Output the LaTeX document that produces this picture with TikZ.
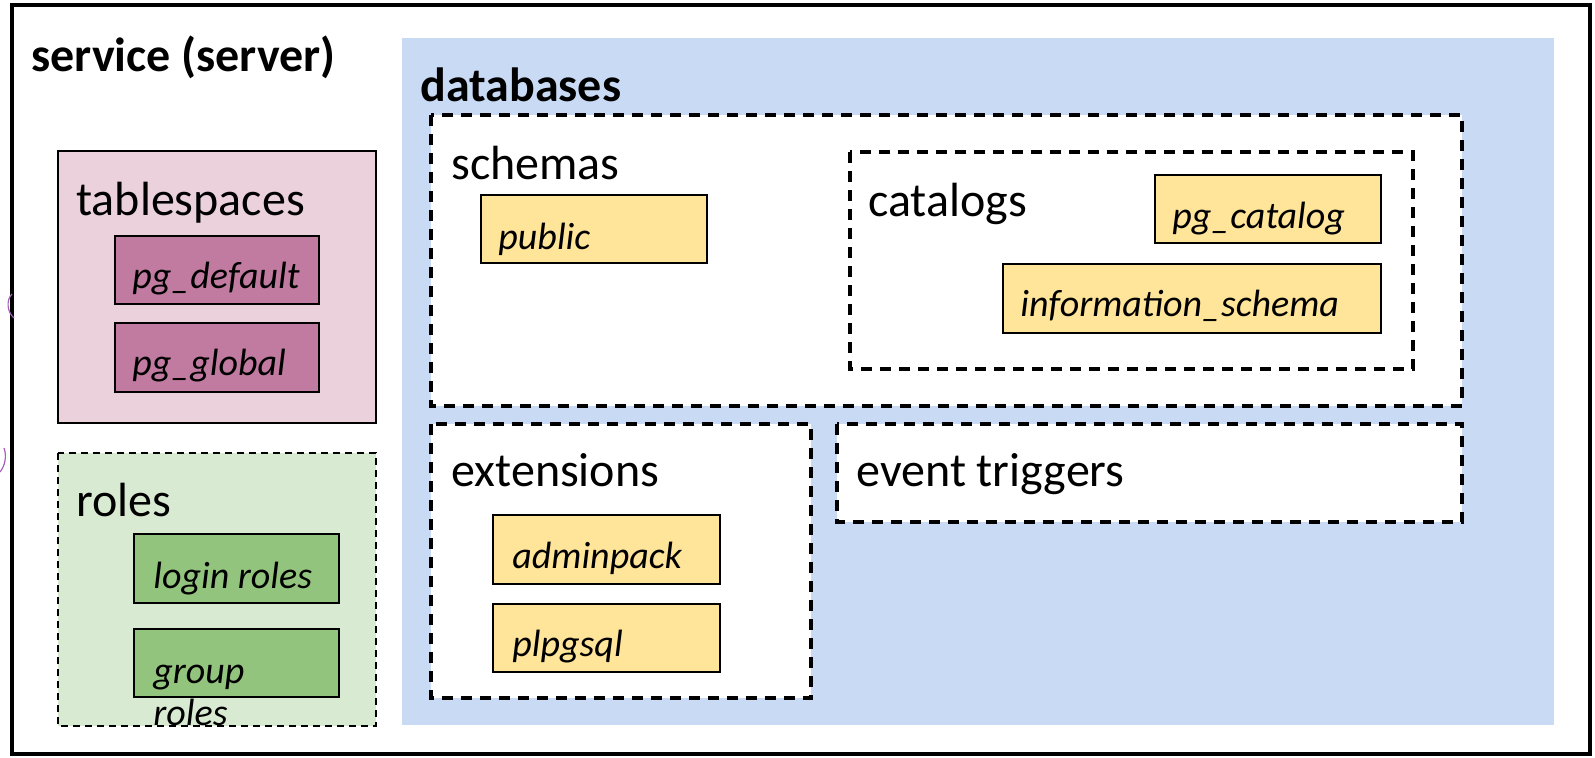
\documentclass[tikz,border=0pt]{standalone}
\usepackage{fontspec}
\setmainfont{Carlito}
\usetikzlibrary{positioning}

\definecolor{dbblue}{RGB}{201,218,245}
\definecolor{tspink}{RGB}{234,209,220}
\definecolor{tsdark}{RGB}{194,123,160}
\definecolor{rolegreen}{RGB}{217,234,211}
\definecolor{roledark}{RGB}{147,196,125}
\definecolor{objyellow}{RGB}{255,229,153}
\definecolor{inkpurple}{RGB}{165,95,185}

\tikzset{
    heading/.style={anchor=base west, inner sep=0pt, font=\fontsize{24}{28}\selectfont\bfseries},
    label/.style={anchor=base west, inner sep=0pt, font=\fontsize{24}{28}\selectfont},
    item/.style={anchor=base west, inner sep=0pt, font=\fontsize{19}{23}\selectfont\itshape},
    objbox/.style={draw=black, line width=0.75pt},
    groupbox/.style={draw=black, line width=1.6pt, dash pattern=on 5.5pt off 4pt, fill=white},
}

\begin{document}
\begin{tikzpicture}[x=0.5pt, y=-0.5pt]
    \useasboundingbox (0,0) rectangle (1595,757);
    % Server frame
    \draw[line width=2.4pt] (12,5) rectangle (1590,754);
    \node[heading] (srv) at (31,71) {service (server)};
    % Stray pen marks on the left edge
    \draw[inkpurple, line width=0.6pt] (12,294) .. controls (6,300) and (7,312) .. (14,318);
    \draw[inkpurple, line width=0.6pt] (4,448) .. controls (7,456) and (5,466) .. (0,472);
    % Tablespaces
    \draw[objbox, fill=tspink] (58,151) rectangle (376,423);
    \node[label] (tsp) at (76,215) {tablespaces};
    \draw[objbox, fill=tsdark] (115,236) rectangle (319,304);
    \node[item] (pgdef) at (132,288) {pg\_default};
    \draw[objbox, fill=tsdark] (115,323) rectangle (319,392);
    \node[item] (pgglob) at (132,375) {pg\_global};
    % Roles
    \draw[fill=rolegreen, line width=0.6pt, dash pattern=on 3.5pt off 2.5pt] (58,453) rectangle (376,726);
    \node[label] (rls) at (76,516) {roles};
    \draw[objbox, fill=roledark] (134,534) rectangle (339,603);
    \node[item] (login) at (153,588) {login roles};
    \draw[objbox, fill=roledark] (134,629) rectangle (339,697);
    \node[item] (grp) at (153,683) {group};
    \node[item] (grp2) at (153,725) {roles};
    % Databases
    \fill[dbblue] (402,38) rectangle (1554,725);
    \node[heading] (dbs) at (420,101) {databases};
    % Schemas and catalogs
    \draw[groupbox] (431,115) rectangle (1462,406);
    \node[label] (sch) at (451,179) {schemas};
    \draw[objbox, fill=objyellow] (481,195) rectangle (707,263);
    \node[item] (pub) at (498,249) {public};
    \draw[groupbox] (850,152) rectangle (1413,369);
    \node[label] (cat) at (868,216) {catalogs};
    \draw[objbox, fill=objyellow] (1155,175) rectangle (1381,243);
    \node[item] (pgcat) at (1172,228) {pg\_catalog};
    \draw[objbox, fill=objyellow] (1003,264) rectangle (1381,333);
    \node[item] (infos) at (1020,316) {information\_schema};
    % Extensions
    \draw[groupbox] (431,424) rectangle (811,698);
    \node[label] (ext) at (451,486) {extensions};
    \draw[objbox, fill=objyellow] (493,515) rectangle (720,584);
    \node[item] (admp) at (512,568) {adminpack};
    \draw[objbox, fill=objyellow] (493,604) rectangle (720,672);
    \node[item] (plpg) at (512,656) {plpgsql};
    % Event triggers
    \draw[groupbox] (837,424) rectangle (1462,522);
    \node[label] (evt) at (856,486) {event triggers};
\end{tikzpicture}
\end{document}
